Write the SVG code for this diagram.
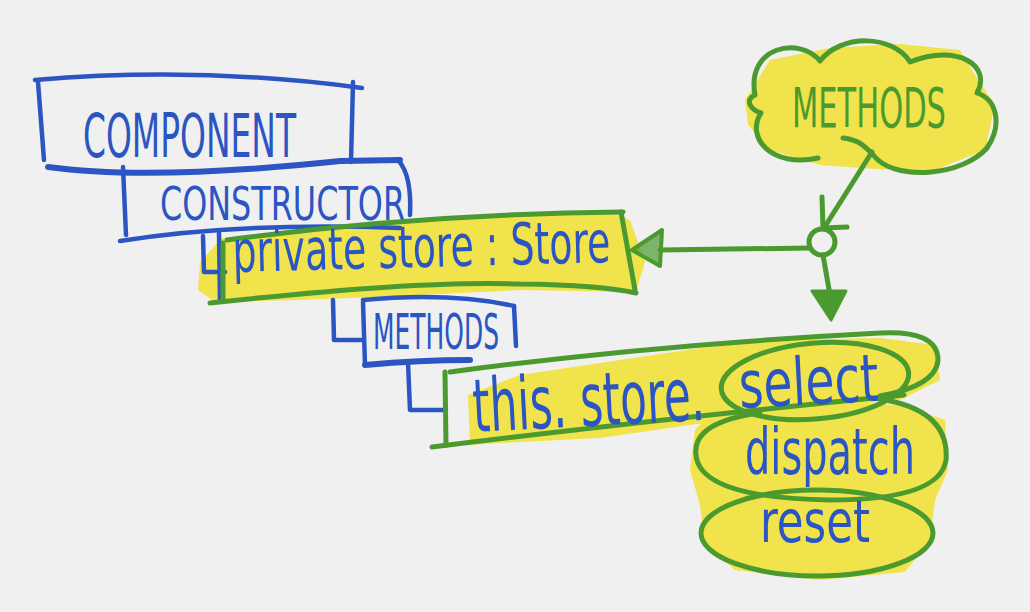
<svg xmlns="http://www.w3.org/2000/svg" width="1030" height="612" viewBox="0 0 1030 612">
<style>
.b{fill:none;stroke:#2b55c2;stroke-width:4.5;stroke-linecap:round;stroke-linejoin:round}
.g{fill:none;stroke:#4b9a30;stroke-width:5;stroke-linecap:round;stroke-linejoin:round}
.y{fill:#f1e34b;stroke:none}
.tb{fill:#2b55c2;font-family:"Liberation Sans Narrow","DejaVu Sans Condensed","Liberation Sans",sans-serif}
.tg{fill:#4b9a30;font-family:"Liberation Sans Narrow","DejaVu Sans Condensed","Liberation Sans",sans-serif}
</style>
<rect width="1030" height="612" fill="#f0f0f0"/>

<!-- yellow highlights -->
<path class="y" d="M200,262 L222,238 L330,228 L420,222 L520,214 L610,212 L630,220 L645,262 L636,292 L520,290 L400,296 L300,300 L215,302 L198,290 Z"/>
<path class="y" d="M468,395 L520,375 L620,360 L700,348 L780,340 L880,338 L935,345 L940,380 L900,400 L780,412 L690,425 L600,438 L520,442 L470,445 Z"/>
<path class="y" d="M695,430 L720,402 L800,400 L900,405 L945,420 L948,470 L935,500 L930,540 L905,572 L820,580 L735,570 L705,545 L700,505 L690,470 Z"/>
<path class="y" d="M745,100 L770,60 L830,48 L900,44 L960,50 L975,75 L995,105 L985,150 L930,172 L860,168 L820,165 L770,150 L748,125 Z"/>

<!-- COMPONENT -->
<g id="component">
<path class="b" d="M35,80 Q200,66 362,88"/>
<path class="b" d="M38,82 L44,160"/>
<path class="b" d="M353,82 L351,162"/>
<path class="b" d="M48,167 Q150,181 340,161 L400,160" style="stroke-width:6"/>
<text class="tb" x="83" y="157" font-size="60" textLength="213" lengthAdjust="spacingAndGlyphs">COMPONENT</text>
</g>

<!-- CONSTRUCTOR -->
<g id="constructor">
<path class="b" d="M123,167 L126,235"/>
<path class="b" d="M398,160 Q412,175 410,215"/>
<path class="b" d="M120,241 Q240,222 400,228"/>
<text class="tb" x="160" y="220" font-size="46" textLength="245" lengthAdjust="spacingAndGlyphs">CONSTRUCTOR</text>
</g>

<!-- private store -->
<g id="store">
<path class="b" d="M203,236 L204,272 L225,272"/>
<path class="b" d="M219,233 L220,300"/>
<path class="g" d="M227,240 Q420,214 623,212"/>
<path class="g" d="M621,212 L635,290"/>
<path class="g" d="M210,303 Q420,280 520,284 Q600,285 636,293"/>
<path class="g" d="M223,243 L223,300"/>
<text class="tb" x="233" y="272" font-size="58" textLength="378" lengthAdjust="spacingAndGlyphs" transform="rotate(-1.5 233 272)">private store : Store</text>
</g>

<!-- METHODS (blue) -->
<g id="methods">
<path class="b" d="M333,300 L334,340 L363,340"/>
<path class="b" d="M363,302 L365,365"/>
<path class="b" d="M363,300 Q450,292 514,306"/>
<path class="b" d="M514,306 L516,346"/>
<path class="b" d="M365,365 Q420,360 470,360" style="stroke-width:6"/>
<text class="tb" x="373" y="349" font-size="50" textLength="126" lengthAdjust="spacingAndGlyphs">METHODS</text>
</g>

<!-- this.store. -->
<g id="thisstore">
<path class="b" d="M408,362 L410,410 L445,410"/>
<path class="g" d="M445,372 L446,445"/>
<path class="g" d="M450,372 Q650,345 880,333 Q938,330 938,360 Q936,386 880,396"/>
<path class="g" d="M432,447 Q650,420 904,395"/>
<text class="tb" x="474" y="432" font-size="74" textLength="232" lengthAdjust="spacingAndGlyphs" transform="rotate(-3 474 432)">this. store.</text>
</g>

<!-- select / dispatch / reset -->
<g id="select">
<ellipse class="g" cx="815" cy="381" rx="94" ry="38" transform="rotate(-5 815 381)"/>
<text class="tb" x="740" y="408" font-size="66" textLength="140" lengthAdjust="spacingAndGlyphs" transform="rotate(-3 740 408)">select</text>
</g>
<g id="dispatch">
<path class="g" d="M880,399 Q950,410 946,460 Q940,500 830,500 Q700,498 696,455 Q692,422 760,413"/>
<text class="tb" x="745" y="474" font-size="64" textLength="170" lengthAdjust="spacingAndGlyphs">dispatch</text>
</g>
<g id="reset">
<ellipse class="g" cx="817" cy="533" rx="116" ry="43"/>
<text class="tb" x="760" y="542" font-size="58" textLength="110" lengthAdjust="spacingAndGlyphs">reset</text>
</g>

<!-- cloud -->
<g id="cloud">
<path class="g" d="M843,138 C862,140 868,150 878,160 C900,180 962,176 987,148 C1002,126 998,100 977,93 C992,66 958,43 910,62 C893,34 840,34 820,61 C800,36 746,46 755,95 C744,100 751,110 761,113 C745,138 772,168 818,158"/>
<text class="tg" x="792" y="127" font-size="42" textLength="154" lengthAdjust="spacingAndGlyphs" transform="matrix(1 0 0 1.32 0 -40.64)">METHODS</text>
</g>

<!-- connectors -->
<g id="connectors">
<path class="g" d="M872,152 L824,228"/>
<path class="g" d="M822,197 L823,228 L847,227"/>
<circle class="g" cx="822" cy="242" r="13"/>
<path class="g" d="M809,248 L660,250"/>
<path d="M632,250 L662,230 L660,266 Z" fill="#4b9a30" fill-opacity="0.7" stroke="#4b9a30" stroke-width="4" stroke-linejoin="round"/>
<path class="g" d="M823,255 L830,295"/>
<path d="M812,291 L846,291 L831,320 Z" fill="#4b9a30" stroke="#4b9a30" stroke-width="3" stroke-linejoin="round"/>
</g>
</svg>
